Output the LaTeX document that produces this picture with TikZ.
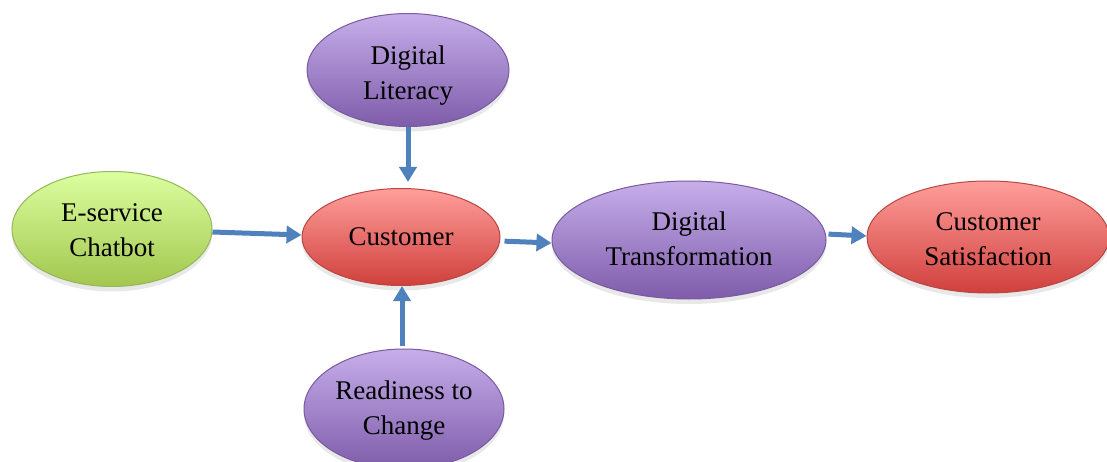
\documentclass[tikz,border=0pt]{standalone}
\usepackage{fontspec}
\setmainfont{Liberation Serif}
\usetikzlibrary{shapes.geometric,arrows.meta,shadows,calc}
\definecolor{purtop}{HTML}{C6AEEA}
\definecolor{purbot}{HTML}{7E5CAA}
\definecolor{purdraw}{HTML}{7A5AA0}
\definecolor{redtop}{HTML}{FF9E9B}
\definecolor{redbot}{HTML}{D0403C}
\definecolor{reddraw}{HTML}{B94643}
\definecolor{grntop}{HTML}{DCFFA0}
\definecolor{grnbot}{HTML}{A2C64E}
\definecolor{grndraw}{HTML}{94B856}
\definecolor{arrowblue}{HTML}{4F81BD}
\newcommand{\twol}[3][0pt]{\raisebox{-#1}[\height][\depth]{\begin{tabular}{@{}c@{}}#2\\#3\end{tabular}}}
\tikzset{
  oval/.style={ellipse, inner sep=0pt, align=center, line width=1pt,
    font=\fontsize{27}{35}\selectfont,
    drop shadow={opacity=0.18, shadow xshift=0pt, shadow yshift=-5pt}},
  purp/.style={oval, draw=purdraw, top color=purtop, bottom color=purbot},
  redn/.style={oval, draw=reddraw, top color=redtop, bottom color=redbot},
  grn/.style={oval, draw=grndraw, top color=grntop, bottom color=grnbot},
  conn/.style={draw=arrowblue, line width=5pt,
    -{Triangle[length=15pt,width=17pt]}}
}
\begin{document}
\begin{tikzpicture}[x=1pt,y=-1pt]
\useasboundingbox[fill=white] (0,0) rectangle (1107,462);
\node[purp, minimum width=202pt, minimum height=113pt] (lit) at (408,70) {\twol[5pt]{Digital}{Literacy}};
\node[grn, minimum width=200pt, minimum height=115pt] (chat) at (112,229) {\twol[3pt]{E-service}{Chatbot}};
\node[redn, minimum width=198pt, minimum height=97pt] (cust) at (401,237) {Customer};
\node[purp, minimum width=274pt, minimum height=118pt] (dt) at (689,240) {\twol[1pt]{Digital}{Transformation}};
\node[redn, minimum width=242pt, minimum height=112pt] (cs) at (988,237) {\twol[4pt]{Customer}{Satisfaction}};
\node[purp, minimum width=200pt, minimum height=120pt] (ready) at (404,409) {\twol[1pt]{Readiness to}{Change}};
\draw[conn] ($(chat.east)+(0,3)$) -- ($(cust.west)+(0,-2)$);
\draw[conn, shorten >=6pt] (lit.south) -- (lit.south |- cust.north);
\draw[conn, shorten <=3pt] ($(ready.north)+(-2,0)$) -- ($(cust.south)+(1,0)$);
\draw[conn, shorten <=4pt] ($(cust.east)+(0,4)$) -- ($(dt.west)+(0,3)$);
\draw[conn, shorten <=2pt] ($(dt.east)+(0,-6)$) -- ($(cs.west)+(0,-1)$);
\end{tikzpicture}
\end{document}
